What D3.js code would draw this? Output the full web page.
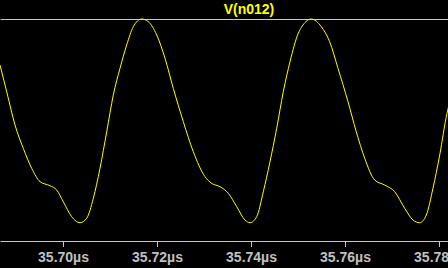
<!DOCTYPE html>
<html>
<head>
<meta charset="utf-8">
<script src="https://cdn.jsdelivr.net/npm/d3@7"></script>
<style>
  body { margin: 0; background: #000; }
  svg { display: block; background: #000; }
</style>
</head>
<body>
<svg id="chart"></svg>
<script>
// trace name
const traceName = 'V(n012)';

// time in µs
const times = [
    35.68660, 35.68802, 35.68979, 35.69155, 35.69334, 35.69511, 35.69723, 35.69866,
    35.70006, 35.70185, 35.70362, 35.70504, 35.70645, 35.70787, 35.70930, 35.71070,
    35.71213, 35.71355, 35.71496, 35.71674, 35.71815, 35.71994, 35.72170, 35.72347,
    35.72560, 35.72772, 35.73021, 35.73164, 35.73340, 35.73517, 35.73696, 35.73872,
    35.73979, 35.74121, 35.74262, 35.74404, 35.74547, 35.74687, 35.74830, 35.75006,
    35.75106, 35.75283, 35.75496, 35.75674, 35.75851, 35.76064, 35.76240, 35.76419,
    35.76632, 35.76845, 35.77057, 35.77270, 35.77447, 35.77589, 35.77730, 35.77872,
    35.78015, 35.78170, 35.78213
];

// voltage in V
const volts = [
    1.587, 1.348, 1.049, 0.840, 0.661, 0.541, 0.505, 0.466,
    0.361, 0.227, 0.173, 0.213, 0.392, 0.661, 0.989, 1.318,
    1.558, 1.767, 1.931, 2.000, 1.976, 1.857, 1.648, 1.378,
    1.079, 0.810, 0.586, 0.526, 0.496, 0.437, 0.317, 0.197,
    0.173, 0.227, 0.451, 0.720, 1.020, 1.348, 1.617, 1.872,
    1.946, 2.000, 1.931, 1.796, 1.558, 1.258, 0.989, 0.751,
    0.556, 0.511, 0.451, 0.302, 0.197, 0.173, 0.242, 0.482,
    0.780, 1.154, 1.229
];

// x tick labels
const timeTicks = [35.70, 35.72, 35.74, 35.76, 35.78];

class waveView {
    constructor(_config, _data) {
        this.config = {
            parentElement: _config.parentElement,
            containerWidth: _config.containerWidth || 448,
            containerHeight: _config.containerHeight || 268,
            margin: _config.margin || {top: 19, right: 0, bottom: 26, left: 0}
        }
        this.data = _data;
        this.initVis();
    }

    initVis() {
        let vis = this;
        vis.width = vis.config.containerWidth - vis.config.margin.left - vis.config.margin.right;
        vis.height = vis.config.containerHeight - vis.config.margin.top - vis.config.margin.bottom;

        // 94px per 0.02µs, 35.70µs sits at x=63
        const pxPerUs = 4700;
        const t0 = 35.70 - 63 / pxPerUs;
        vis.xScale = d3.scaleLinear()
            .domain([t0, t0 + vis.width / pxPerUs])
            .range([0, vis.width]);

        vis.yScale = d3.scaleLinear()
            .domain([0, 2])
            .range([vis.height, 0]);

        vis.xAxis = d3.axisBottom(vis.xScale)
            .tickValues(timeTicks)
            .tickFormat(d => d.toFixed(2) + 'µs')
            .tickSizeInner(6)
            .tickSizeOuter(0)
            .tickPadding(5);

        vis.svg = d3.select(vis.config.parentElement)
            .attr('width', vis.config.containerWidth)
            .attr('height', vis.config.containerHeight);

        vis.chart = vis.svg.append('g')
            .attr('transform', `translate(${vis.config.margin.left},${vis.config.margin.top})`);

        // top border of the plot pane
        vis.topAxisG = vis.chart.append('g')
            .attr('class', 'axis top-axis');

        vis.xAxisG = vis.chart.append('g')
            .attr('class', 'axis x-axis')
            .attr('transform', `translate(0,${vis.height - 1})`);

        vis.line = d3.line()
            .x(d => vis.xScale(d.t))
            .y(d => vis.yScale(d.v))
            .curve(d3.curveMonotoneX);

        vis.svg.append('text')
            .attr('x', 249)
            .attr('y', 14)
            .attr('text-anchor', 'middle')
            .attr('fill', '#ffff00')
            .style('font', 'bold 14px "Liberation Sans", Arial, sans-serif')
            .text(traceName);
    }

    renderVis() {
        let vis = this;

        vis.topAxisG.call(d3.axisTop(vis.xScale).tickValues([]).tickSizeOuter(0));
        vis.topAxisG.select('.domain').attr('stroke', '#c8c8c8');

        vis.xAxisG.call(vis.xAxis);
        vis.xAxisG.select('.domain').attr('stroke', '#c8c8c8');
        vis.xAxisG.selectAll('.tick line').attr('stroke', '#c8c8c8');
        vis.xAxisG.selectAll('.tick text')
            .attr('fill', '#c0c0c0')
            .style('font', 'bold 14px "Liberation Sans", Arial, sans-serif');

        vis.chart.append('path')
            .datum(vis.data)
            .attr('fill', 'none')
            .attr('stroke', '#ffff00')
            .attr('stroke-width', 1)
            .attr('d', vis.line);
    }
}

const waveData = times.map((t, i) => ({t: t, v: volts[i]}));
const wave = new waveView({parentElement: '#chart'}, waveData);
wave.renderVis();
</script>
</body>
</html>
